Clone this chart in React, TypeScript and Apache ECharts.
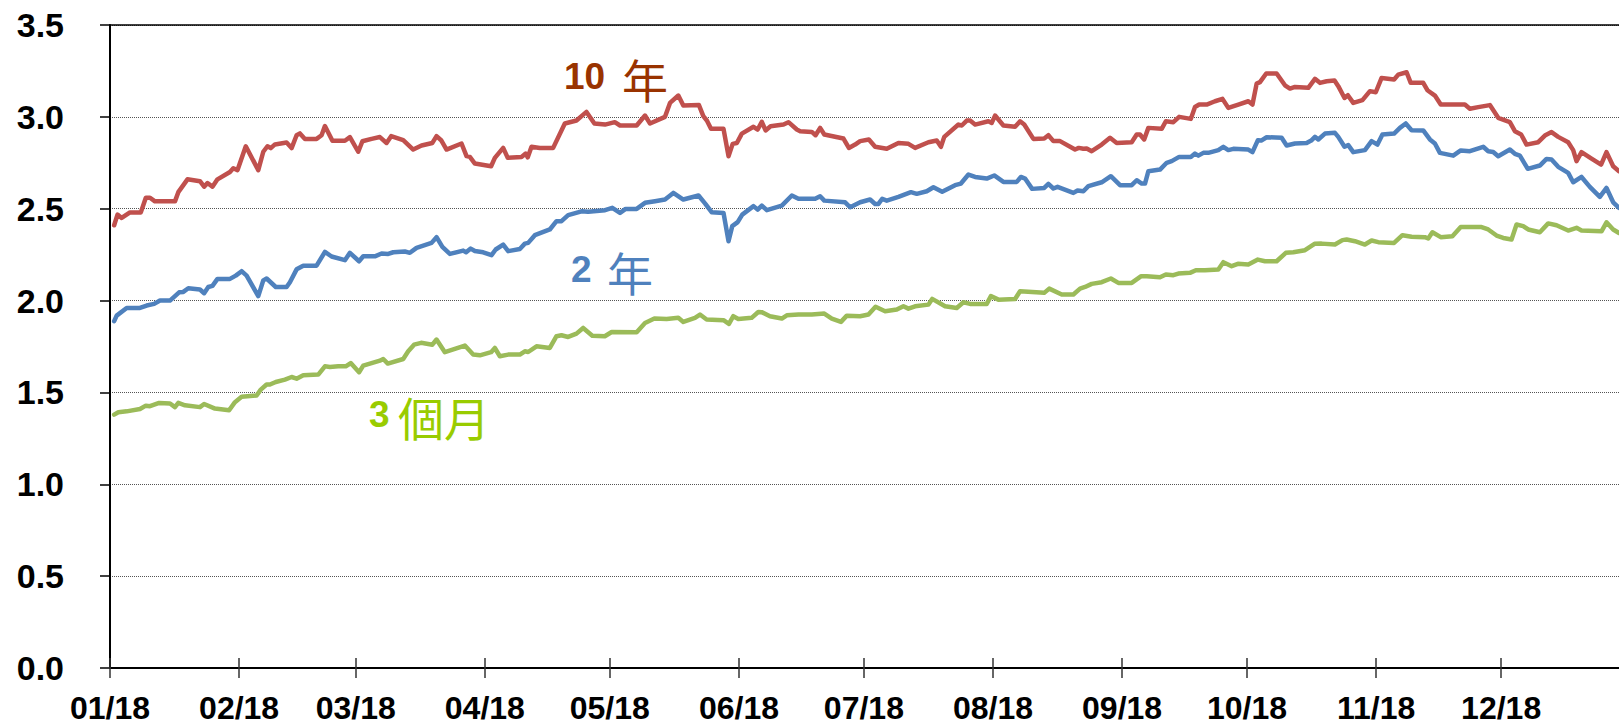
import React, { useEffect, useRef } from "react";
import * as echarts from "echarts";

// x = calendar day offset from 1 Jan 2018, y = yield (%)
const tenYear: [number, number][] = [
  [1,2.41],[1.8,2.468],[2.8,2.45],[4.8,2.48],[7.4,2.48],[8.6,2.56],[9.6,2.56],[10.8,2.54],[15.6,2.54],[16.4,2.59],[18.6,2.66],[21.6,2.65],[22.6,2.62],[23.4,2.64],[24.6,2.62],[25.8,2.66],[28.8,2.70],[29.6,2.72],[30.6,2.71],[32.6,2.84],[35.6,2.71],[36.8,2.81],[37.8,2.84],[38.6,2.83],[39.6,2.85],[42.4,2.86],[43.6,2.83],[44.8,2.90],[45.6,2.91],[46.8,2.88],[49.6,2.88],[50.8,2.90],[51.6,2.95],[53.4,2.87],[56.4,2.87],[57.6,2.89],[59.6,2.81],
  [60.6,2.867],[62.8,2.88],[64.8,2.89],[66.4,2.858],[67.5,2.895],[70.4,2.873],[72.8,2.822],[74.8,2.844],[77.4,2.858],[78.4,2.895],[79.5,2.873],[80.8,2.822],[84.4,2.855],[85.6,2.786],[86.4,2.782],[87.6,2.746],[91.5,2.731],[92.4,2.777],[94.4,2.831],[95.5,2.777],[98.8,2.782],[99.8,2.80],[100.3,2.78],[101.2,2.837],[103.2,2.831],[106.4,2.831],[109.2,2.964],[112,2.98],[114.4,3.027],[116.3,2.964],
  [118.85,2.958],[121.2,2.971],[122.45,2.953],[126.45,2.953],[128.45,3.007],[129.65,2.964],[133.25,3.00],[134.45,3.076],[136.45,3.116],[137.65,3.062],[141.4,3.064],[142.45,3.004],[143.3,2.98],[144.3,2.935],[147.3,2.935],[148.5,2.786],[149.5,2.853],[150.5,2.858],[151.7,2.909],[154.5,2.946],[155.5,2.931],[156.5,2.973],[157.4,2.926],[158.6,2.949],[161.7,2.958],[162.9,2.971],[164.9,2.931],[165.7,2.922],[168.5,2.918],[169.4,2.90],[170.5,2.94],[171.5,2.904],[176.1,2.882],[177.4,2.831],[178.9,2.849],
  [180.1,2.868],[182.2,2.877],[183.7,2.837],[186.5,2.826],[189.3,2.858],[191.7,2.853],[193.3,2.831],[196.5,2.862],[198.5,2.871],[199.5,2.837],[200.3,2.891],[203.7,2.958],[204.5,2.953],[205.7,2.98],[206.5,2.98],[207.7,2.958],[210.9,2.976],[211.7,2.967],[212.5,3.007],[214.5,2.953],[217.3,2.946],[218.5,2.976],[219.5,2.958],[221.7,2.88],[224.3,2.882],[225.3,2.90],[226.5,2.868],[228.1,2.868],[231.7,2.822],[232.6,2.831],[233.7,2.826],[234.5,2.828],[235.7,2.813],[238.1,2.849],
  [240.1,2.886],[241.7,2.858],[245.3,2.862],[246.5,2.904],[247.3,2.904],[248.3,2.877],[249.3,2.94],[252.5,2.935],[253.5,2.976],[255.3,2.971],[256.7,3.00],[259.5,2.989],[260.5,3.054],[261.5,3.067],[263.3,3.067],[265.3,3.085],[267.1,3.098],[268.5,3.049],[270.9,3.067],[273.3,3.085],[274.3,3.067],[275.3,3.181],[276.1,3.189],[277.6,3.236],[280.1,3.236],[282.1,3.172],[283.3,3.154],[284.5,3.163],[287.7,3.158],[289.3,3.207],[290.5,3.185],[292.1,3.194],[294,3.198],[294.9,3.167],[296.4,3.103],[297.2,3.118],[298.5,3.076],
  [300.7,3.091],[302.5,3.14],[303.9,3.134],[305.3,3.212],[308.3,3.203],[309.3,3.23],[311.3,3.243],[312.3,3.185],[315.3,3.185],[316.3,3.145],[318.1,3.116],[319.5,3.067],[325.3,3.067],[326.5,3.044],[328.5,3.053],[331.3,3.064],[333.3,2.995],[336.1,2.971],[337.3,2.922],[338.8,2.904],[340.1,2.849],[342.9,2.862],[344.5,2.898],[346.1,2.917],[347.7,2.891],[350.1,2.862],[351.3,2.819],[352.1,2.759],[353.3,2.808],[355.7,2.773],[358,2.74],[359.3,2.808],[360.9,2.731],[362.3,2.704],
];

const twoYear: [number, number][] = [
  [1,1.888],[1.6,1.918],[4,1.96],[7.2,1.96],[8.8,1.973],[10.6,1.982],[12,2.00],[14.4,2.00],[16.6,2.045],[17.6,2.047],[18.8,2.067],[21.6,2.06],[22.6,2.04],[23.6,2.074],[24.6,2.08],[25.8,2.118],[28.8,2.118],[30.2,2.136],[31.6,2.16],[32.8,2.136],[35.6,2.024],[36.8,2.11],[37.6,2.12],[39.8,2.074],[42.4,2.074],[43.2,2.10],[44.8,2.17],[46.4,2.19],[49.6,2.19],[51.6,2.265],[53.2,2.24],[56.4,2.22],[57.6,2.26],[59.8,2.214],
  [60.8,2.241],[63.6,2.241],[65.2,2.256],[66.8,2.254],[68,2.263],[70.8,2.267],[72,2.26],[73.6,2.287],[77.2,2.314],[78.4,2.345],[79.8,2.292],[81.6,2.254],[84.8,2.272],[85.5,2.263],[86.6,2.283],[87.6,2.27],[89.6,2.263],[91.6,2.247],[92.6,2.278],[94.4,2.305],[95.6,2.269],[98.4,2.281],[99.6,2.31],[100.4,2.314],[102,2.356],[105.6,2.387],[107.2,2.432],[108.4,2.432],[110,2.465],[113.2,2.486],[114.8,2.483],
  [118.85,2.492],[120.6,2.505],[122.45,2.477],[123.8,2.499],[126.45,2.499],[128.45,2.532],[130.85,2.541],[133.25,2.55],[135.25,2.586],[137.65,2.55],[141.3,2.572],[142.9,2.528],[144.45,2.481],[147.3,2.477],[148.5,2.323],[149.4,2.405],[150.7,2.427],[151.8,2.468],[154.5,2.514],[155.5,2.495],[156.5,2.517],[157.7,2.492],[161.3,2.517],[163.7,2.572],[165.3,2.554],[169.3,2.554],[170.5,2.568],[171.5,2.544],[176.5,2.535],[177.7,2.508],
  [180.1,2.535],[182.5,2.55],[183.7,2.526],[184.5,2.526],[185.4,2.554],[186.5,2.544],[189.3,2.564],[192.3,2.59],[193.7,2.581],[196.1,2.595],[197.7,2.617],[199.8,2.592],[202.9,2.628],[204.3,2.637],[206.1,2.686],[207.7,2.673],[210.5,2.664],[212.3,2.681],[214.5,2.646],[217.7,2.646],[218.7,2.673],[219.7,2.664],[221.4,2.608],[224.3,2.613],[225.3,2.635],[226.5,2.61],[227.5,2.619],[231.3,2.586],[232.3,2.599],[233.7,2.595],[234.9,2.623],[238.1,2.644],
  [240.3,2.677],[242.5,2.628],[245.3,2.628],[246.5,2.655],[247.7,2.637],[248.5,2.637],[249.3,2.704],[252.1,2.713],[253.7,2.75],[254.9,2.759],[256.7,2.782],[259.5,2.782],[260.5,2.80],[261.3,2.789],[262.5,2.804],[263.7,2.804],[266.1,2.819],[267.3,2.837],[268.5,2.819],[269.7,2.826],[273.3,2.822],[274.3,2.808],[275.6,2.873],[276.4,2.871],[277.7,2.889],[281.3,2.886],[282.5,2.844],[284.5,2.855],[287.3,2.858],[288.4,2.871],[289.3,2.891],[290.1,2.877],[291.7,2.909],[294.1,2.913],[294.9,2.891],[296.4,2.837],[297.3,2.846],[298.5,2.808],
  [301.3,2.819],[302.9,2.868],[304.3,2.849],[305.5,2.904],[308.3,2.909],[309.7,2.94],[311.1,2.964],[312.5,2.927],[315.3,2.926],[316.9,2.877],[318.1,2.855],[319.3,2.804],[322.5,2.789],[324.3,2.817],[326.5,2.813],[329.7,2.837],[330.9,2.813],[332.1,2.809],[333.3,2.786],[336.1,2.822],[337.3,2.799],[338.5,2.789],[340.4,2.717],[343.3,2.735],[344.9,2.771],[346.1,2.768],[347.7,2.728],[350.1,2.695],[351.3,2.644],[353.3,2.673],[355.3,2.619],[357.7,2.564],[359.3,2.613],[360.9,2.535],[362.3,2.505],
];

const threeMonth: [number, number][] = [
  [1,1.379],[2,1.392],[4,1.397],[7.2,1.41],[8.6,1.428],[9.6,1.425],[11.8,1.443],[14.4,1.44],[15.6,1.42],[16.4,1.443],[18,1.43],[21.6,1.42],[22.6,1.437],[25.2,1.412],[28.6,1.403],[30,1.447],[31.6,1.476],[35.2,1.483],[36.2,1.515],[37.6,1.543],[38.4,1.543],[39.8,1.557],[42,1.57],[43.6,1.584],[44.8,1.575],[46.4,1.594],[50,1.597],[51.6,1.642],[52.8,1.639],[54.8,1.642],[56.6,1.642],[57.8,1.66],[59.8,1.61],
  [60.8,1.646],[64.8,1.673],[65.6,1.682],[66.7,1.657],[70.4,1.682],[71.6,1.724],[73,1.76],[74.7,1.77],[77.4,1.76],[78.4,1.788],[80.4,1.719],[85.2,1.755],[87.2,1.706],[88.8,1.702],[91.5,1.719],[92.4,1.742],[93.6,1.697],[95.6,1.706],[98.4,1.706],[99.6,1.724],[100.4,1.72],[102.4,1.751],[105.6,1.742],[107.2,1.806],[108.4,1.811],[110,1.802],[112,1.82],[113.6,1.851],[115.8,1.809],[118.8,1.806],
  [120.45,1.829],[126.45,1.828],[128.45,1.878],[130.7,1.902],[133.65,1.90],[136.45,1.906],[137.65,1.884],[140.45,1.906],[141.65,1.924],[143.25,1.897],[147.3,1.893],[148.6,1.873],[149.65,1.915],[150.85,1.90],[154.05,1.906],[155.65,1.938],[156.45,1.937],[158.45,1.915],[161.3,1.902],[162.5,1.92],[165.3,1.924],[168.5,1.924],[171.5,1.929],[173.3,1.902],[175.5,1.884],[176.9,1.918],[180.1,1.915],
  [182.1,1.924],[183.8,1.966],[186.1,1.942],[188.9,1.951],[190.5,1.969],[191.7,1.956],[193.3,1.969],[196.5,1.978],[197.4,2.009],[200.5,1.969],[203.3,1.96],[204.9,1.991],[206.5,1.982],[210.5,1.982],[211.5,2.024],[213.3,2.005],[217.3,2.009],[218.5,2.051],[224.3,2.042],[225.5,2.065],[228.5,2.033],[231.3,2.033],[232.9,2.065],[234.1,2.074],[235.7,2.091],[238.1,2.10],
  [240.3,2.12],[242.1,2.096],[245.3,2.096],[247.5,2.132],[248.9,2.132],[252.1,2.127],[253.5,2.142],[255.3,2.138],[256.5,2.147],[259.3,2.151],[260.7,2.165],[262.9,2.165],[266.1,2.169],[267.3,2.209],[269.3,2.187],[270.8,2.20],[273.3,2.196],[275.6,2.223],[277.3,2.214],[280.1,2.214],[282.3,2.26],[284.1,2.263],[286.9,2.274],[289.2,2.309],[290.9,2.31],[294.1,2.305],[295.9,2.329],[296.9,2.332],
  [298.9,2.323],[301.3,2.305],[302.9,2.327],[304.5,2.318],[308.3,2.314],[310.3,2.356],[312.5,2.347],[315.7,2.345],[316.5,2.338],[317.5,2.372],[319.5,2.345],[322.3,2.35],[324.3,2.40],[329.3,2.40],[330.9,2.387],[332.9,2.354],[334.5,2.341],[336.5,2.332],[337.7,2.414],[339.3,2.405],[340.5,2.387],[343.3,2.372],[345.3,2.42],[347.3,2.41],[350.1,2.381],[352.1,2.396],[353.3,2.381],[358.1,2.377],[359.3,2.426],[360.9,2.387],[362.3,2.368],
];

// month starts (day offsets) and their tick labels
const monthStarts = [0, 31, 59, 90, 120, 151, 181, 212, 243, 273, 304, 334];
const monthLabels = ["01/18", "02/18", "03/18", "04/18", "05/18", "06/18", "07/18", "08/18", "09/18", "10/18", "11/18", "12/18"];
const yTicks = [0, 0.5, 1, 1.5, 2, 2.5, 3, 3.5];

const X_MAX = 362.3;
const FONT = "'Liberation Sans', Arial, sans-serif";
const CJK = "'Noto Sans CJK TC', 'Noto Sans CJK SC', sans-serif";

export default function App() {
  const ref = useRef<HTMLDivElement>(null);
  useEffect(() => {
    if (!ref.current) return;
    const chart = echarts.init(ref.current, undefined, { renderer: "svg" });
    const labelFor = (v: number) => {
      const i = monthStarts.indexOf(Math.round(v));
      return i >= 0 ? monthLabels[i] : "";
    };
    const lineSeries = (name: string, data: [number, number][], color: string) => ({
      name,
      type: "line",
      data,
      showSymbol: false,
      symbol: "none",
      lineStyle: { color, width: 4.5, cap: "round", join: "round" },
      itemStyle: { color },
      z: 3,
    });
    const label = (text: string, x: number, y: number, color: string, font: string) => ({
      type: "text",
      x,
      y,
      z: 10,
      style: { text, fill: color, font, align: "left", verticalAlign: "middle" },
    });
    chart.setOption({
      animation: false,
      backgroundColor: "#ffffff",
      grid: { left: 110, right: 0, top: 25, bottom: 57, containLabel: false },
      xAxis: [
        {
          type: "value",
          min: 0,
          max: X_MAX,
          position: "bottom",
          axisLine: { show: true, lineStyle: { color: "#000", width: 2 } },
          axisTick: { show: true, customValues: monthStarts, length: 10, inside: false, lineStyle: { color: "#333", width: 1.5 } },
          axisLabel: {
            show: true,
            customValues: monthStarts,
            formatter: labelFor,
            margin: 24,
            color: "#000",
            fontFamily: FONT,
            fontWeight: "bold",
            fontSize: 32,
            lineHeight: 32,
          },
          splitLine: { show: false },
        },
        {
          type: "value",
          min: 0,
          max: X_MAX,
          position: "bottom",
          axisLine: { show: false },
          axisTick: { show: true, customValues: monthStarts, length: 10, inside: true, lineStyle: { color: "#333", width: 1.5 } },
          axisLabel: { show: false },
          splitLine: { show: false },
        },
        {
          type: "value",
          min: 0,
          max: X_MAX,
          position: "top",
          axisLine: { show: true, lineStyle: { color: "#000", width: 1.5 } },
          axisTick: { show: false },
          axisLabel: { show: false },
          splitLine: { show: false },
        },
      ],
      yAxis: {
        type: "value",
        min: 0,
        max: 3.5,
        interval: 0.5,
        axisLine: { show: true, lineStyle: { color: "#000", width: 2 } },
        axisTick: { show: true, length: 10, inside: false, lineStyle: { color: "#000", width: 1.5 } },
        axisLabel: {
          margin: 46,
          color: "#000",
          fontFamily: FONT,
          fontWeight: "bold",
          fontSize: 34,
          formatter: (v: number) => (yTicks.includes(v) ? v.toFixed(1) : ""),
        },
        splitLine: { show: true, lineStyle: { color: "#555", type: [1, 1], width: 1 } },
      },
      series: [
        lineSeries("3 個月", threeMonth, "#9BBB59"),
        lineSeries("2 年", twoYear, "#4F81BD"),
        lineSeries("10 年", tenYear, "#C0504D"),
      ],
      graphic: [
        label("10", 564, 76, "#993300", `bold 37px ${FONT}`),
        label("年", 622, 78, "#993300", `normal 46px ${CJK}`),
        label("2", 571, 269, "#4F81BD", `bold 37px ${FONT}`),
        label("年", 607, 271, "#4F81BD", `normal 46px ${CJK}`),
        label("3", 369, 414, "#99CC00", `bold 37px ${FONT}`),
        label("個月", 398, 416, "#99CC00", `normal 46px ${CJK}`),
      ],
    });
    return () => chart.dispose();
  }, []);
  return (
    <div
      ref={ref}
      style={{ position: "absolute", left: 0, top: 0, width: 1619, height: 725, background: "#fff" }}
    />
  );
}
